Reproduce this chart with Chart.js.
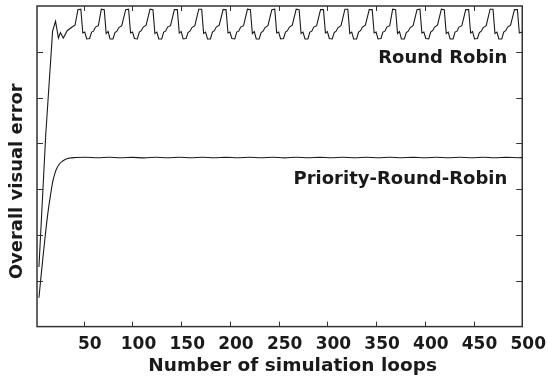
<!DOCTYPE html>
<html>
<head>
<meta charset="utf-8">
<script src="https://cdn.jsdelivr.net/npm/chart.js@4"></script>
<style>
  body { margin: 0; background: #fff; }
  #wrap { width: 548px; height: 385px; }
</style>
</head>
<body>
<div id="wrap"><canvas id="errchart"></canvas></div>
<script>
const seriesNames = ['Round Robin', 'Priority-Round-Robin'];
const xTitle = 'Number of simulation loops';
const yTitle = 'Overall visual error';
const xTicks = [50, 100, 150, 200, 250, 300, 350, 400, 450, 500];
const yTicks = [1, 2, 3, 4, 5, 6];

// Round Robin, one row per oscillation
const rrLoops = [
  4, 11, 18, 21, 24, 26, 29, 33, 38, 41,
  44, 47, 49, 51, 53, 56, 58, 60, 62, 65,
  68, 71, 73, 75, 77, 80, 82, 84, 86, 89,
  93, 96, 98, 100, 102, 105, 107, 109, 111, 114,
  118, 121, 123, 125, 127, 130, 132, 134, 136, 139,
  143, 146, 148, 150, 152, 155, 157, 159, 161, 164,
  168, 171, 173, 175, 177, 180, 182, 184, 186, 189,
  193, 196, 198, 200, 202, 205, 207, 209, 211, 214,
  218, 221, 223, 225, 227, 230, 232, 234, 236, 239,
  243, 246, 248, 250, 252, 255, 257, 259, 261, 264,
  268, 271, 273, 275, 277, 280, 282, 284, 286, 289,
  293, 296, 298, 300, 302, 305, 307, 309, 311, 314,
  318, 321, 323, 325, 327, 330, 332, 334, 336, 339,
  343, 346, 348, 350, 352, 355, 357, 359, 361, 364,
  367, 370, 372, 374, 376, 379, 381, 383, 385, 388,
  392, 395, 397, 399, 401, 404, 406, 408, 410, 413,
  417, 420, 422, 424, 426, 429, 431, 433, 435, 438,
  442, 445, 447, 449, 451, 454, 456, 458, 460, 463,
  467, 470, 472, 474, 476, 479, 481, 483, 485, 488,
  492, 495, 497, 499, 500
];
const rrError = [
  1.30, 4.20, 6.45, 6.67, 6.30, 6.42, 6.30, 6.46, 6.54, 6.58,
  6.92, 6.93, 6.41, 6.43, 6.28, 6.29, 6.43, 6.45, 6.54, 6.57,
  6.93, 6.92, 6.40, 6.44, 6.28, 6.28, 6.42, 6.45, 6.53, 6.57,
  6.92, 6.93, 6.41, 6.43, 6.29, 6.28, 6.43, 6.46, 6.54, 6.58,
  6.93, 6.92, 6.40, 6.43, 6.28, 6.28, 6.43, 6.45, 6.54, 6.57,
  6.92, 6.92, 6.41, 6.44, 6.28, 6.29, 6.42, 6.45, 6.53, 6.57,
  6.93, 6.93, 6.40, 6.43, 6.28, 6.28, 6.43, 6.46, 6.54, 6.58,
  6.92, 6.92, 6.41, 6.43, 6.29, 6.28, 6.43, 6.45, 6.54, 6.57,
  6.93, 6.92, 6.40, 6.44, 6.28, 6.28, 6.42, 6.45, 6.53, 6.57,
  6.92, 6.93, 6.41, 6.43, 6.28, 6.29, 6.43, 6.46, 6.54, 6.58,
  6.93, 6.92, 6.40, 6.43, 6.28, 6.28, 6.43, 6.45, 6.54, 6.57,
  6.92, 6.92, 6.41, 6.44, 6.29, 6.28, 6.42, 6.45, 6.53, 6.57,
  6.93, 6.93, 6.40, 6.43, 6.28, 6.28, 6.43, 6.46, 6.54, 6.58,
  6.92, 6.92, 6.41, 6.43, 6.28, 6.29, 6.43, 6.45, 6.54, 6.57,
  6.93, 6.92, 6.40, 6.44, 6.28, 6.28, 6.42, 6.45, 6.53, 6.57,
  6.92, 6.93, 6.41, 6.43, 6.29, 6.28, 6.43, 6.46, 6.54, 6.58,
  6.93, 6.92, 6.40, 6.43, 6.28, 6.28, 6.43, 6.45, 6.54, 6.57,
  6.92, 6.92, 6.41, 6.44, 6.28, 6.29, 6.42, 6.45, 6.53, 6.57,
  6.93, 6.93, 6.40, 6.43, 6.28, 6.28, 6.43, 6.46, 6.54, 6.58,
  6.92, 6.92, 6.41, 6.43, 6.40
];

// Priority-Round-Robin
const prLoops = [
  4, 6, 8, 10, 12, 14, 16, 18, 20, 22, 25, 28, 32, 36, 40,
  52, 64, 76, 88, 100, 112, 124, 136, 148, 160, 172, 184, 196,
  208, 220, 232, 244, 256, 268, 280, 292, 304, 316, 328, 340,
  352, 364, 376, 388, 400, 412, 424, 436, 448, 460, 472, 484, 496, 500
];
const prError = [
  0.63, 1.07, 1.49, 1.89, 2.28, 2.61, 2.89, 3.15, 3.32, 3.44, 3.55, 3.61, 3.66, 3.68, 3.69,
  3.696, 3.686, 3.697, 3.687, 3.695, 3.685, 3.697, 3.688, 3.696, 3.686, 3.697, 3.687, 3.695,
  3.686, 3.697, 3.687, 3.696, 3.685, 3.697, 3.687, 3.695, 3.686, 3.697, 3.687, 3.696,
  3.686, 3.697, 3.688, 3.695, 3.686, 3.697, 3.687, 3.696, 3.686, 3.697, 3.687, 3.695, 3.688, 3.690
];

const ink = '#1a1a1a';
const boldFont = '"DejaVu Sans", sans-serif';

const toPoints = (xs, ys) => xs.map((x, i) => ({ x: x, y: ys[i] }));

// frame, inward ticks, line names and axis titles
const framePlugin = {
  id: 'framePlugin',
  afterDraw(chart) {
    const { ctx, chartArea: a, scales: { x, y } } = chart;
    ctx.save();
    ctx.strokeStyle = '#333';
    ctx.lineWidth = 1.5;
    ctx.strokeRect(a.left, a.top, a.right - a.left, a.bottom - a.top);

    ctx.lineWidth = 1;
    ctx.beginPath();
    xTicks.forEach(v => {
      const px = Math.round(x.getPixelForValue(v)) + 0.5;
      ctx.moveTo(px, a.bottom); ctx.lineTo(px, a.bottom - 5);
      ctx.moveTo(px, a.top); ctx.lineTo(px, a.top + 5);
    });
    yTicks.forEach(v => {
      const py = Math.round(y.getPixelForValue(v)) + 0.5;
      ctx.moveTo(a.left, py); ctx.lineTo(a.left + 6, py);
      ctx.moveTo(a.right, py); ctx.lineTo(a.right - 6, py);
    });
    ctx.stroke();

    ctx.fillStyle = ink;
    ctx.font = 'bold 18px ' + boldFont;
    ctx.textBaseline = 'alphabetic';
    ctx.textAlign = 'right';
    ctx.fillText(seriesNames[0], a.right - 15, y.getPixelForValue(5.76));
    ctx.fillText(seriesNames[1], a.right - 15, y.getPixelForValue(3.11));

    ctx.textAlign = 'center';
    ctx.font = 'bold 18.5px ' + boldFont;
    ctx.fillText(xTitle, (a.left + a.right) / 2 + 13, a.bottom + 44);

    ctx.font = 'bold 18px ' + boldFont;
    ctx.translate(a.left - 15, (a.top + a.bottom) / 2 + 15);
    ctx.rotate(-Math.PI / 2);
    ctx.fillText(yTitle, 0, 0);
    ctx.restore();
  }
};

new Chart(document.getElementById('errchart'), {
  type: 'line',
  data: {
    datasets: [
      {
        label: seriesNames[0],
        data: toPoints(rrLoops, rrError),
        borderColor: ink,
        borderWidth: 1.1,
        pointRadius: 0,
        tension: 0
      },
      {
        label: seriesNames[1],
        data: toPoints(prLoops, prError),
        borderColor: ink,
        borderWidth: 1.1,
        pointRadius: 0,
        cubicInterpolationMode: 'monotone'
      }
    ]
  },
  options: {
    responsive: true,
    maintainAspectRatio: false,
    animation: false,
    layout: { padding: { left: 37, top: 6, right: 24, bottom: 22 } },
    plugins: {
      legend: { display: false },
      tooltip: { enabled: false }
    },
    scales: {
      x: {
        type: 'linear',
        min: 2,
        max: 500,
        afterBuildTicks: axis => { axis.ticks = xTicks.map(v => ({ value: v })); },
        grid: { display: false, drawTicks: false },
        border: { display: false },
        ticks: {
          color: ink,
          padding: 8,
          labelOffset: 6,
          maxRotation: 0,
          autoSkip: false,
          font: { family: boldFont, weight: 'bold', size: 17 }
        }
      },
      y: {
        display: false,
        min: 0,
        max: 7,
        afterBuildTicks: axis => { axis.ticks = yTicks.map(v => ({ value: v })); }
      }
    }
  },
  plugins: [framePlugin]
});
</script>
</body>
</html>
